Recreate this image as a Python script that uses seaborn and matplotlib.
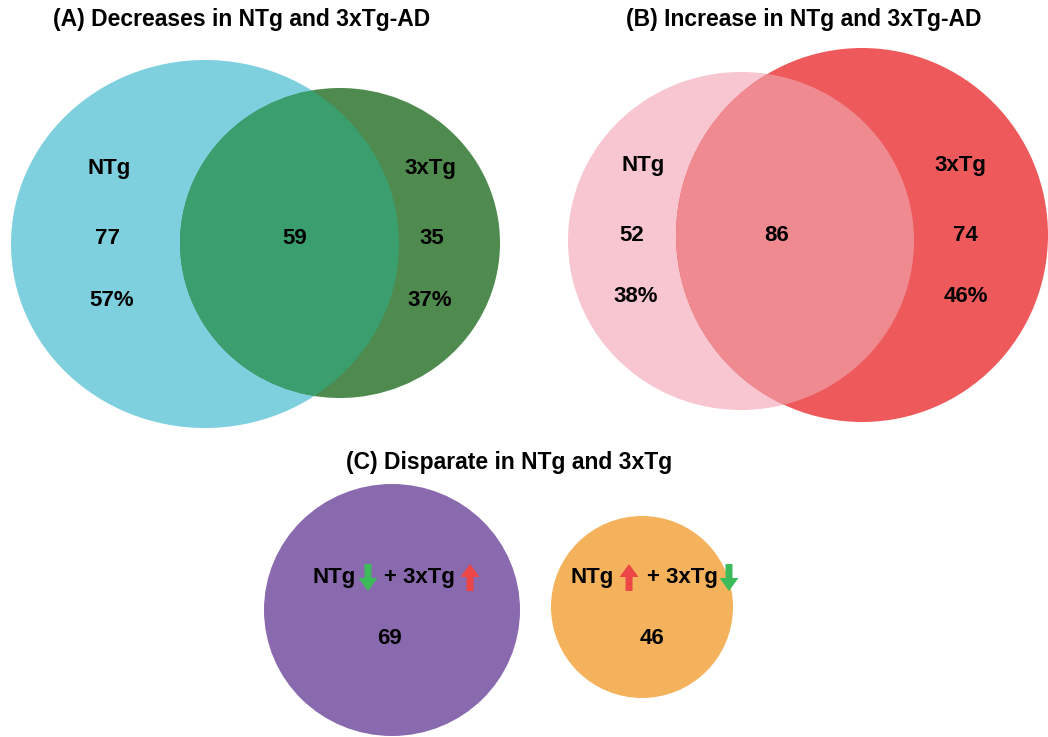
import numpy as np
import matplotlib.pyplot as plt
import seaborn as sns
from matplotlib.patches import Ellipse

# ---- data ----
titles = ["(A) Decreases in NTg and 3xTg-AD",
          "(B) Increase in NTg and 3xTg-AD",
          "(C) Disparate in NTg and 3xTg"]
set_names = ["NTg", "3xTg"]
decrease_counts = [77, 59, 35]      # NTg only, shared, 3xTg only
decrease_pct = ["57%", "37%"]
increase_counts = [52, 86, 74]
increase_pct = ["38%", "46%"]
disparate_counts = [69, 46]         # NTg down + 3xTg up, NTg up + 3xTg down

sns.set_theme(style="white")
plt.rcParams["font.family"] = ["Liberation Sans", "DejaVu Sans"]

fig = plt.figure(figsize=(10.48, 7.37), dpi=100)
ax = fig.add_axes([0, 0, 1, 1])
ax.set_xlim(0, 1048)
ax.set_ylim(737, 0)
ax.set_aspect("equal")
ax.axis("off")

FS = 16


def venn2(ax, c1, c2, colors):
    e1 = Ellipse(c1[:2], c1[2], c1[3], color=colors[0], lw=0)
    e2 = Ellipse(c2[:2], c2[2], c2[3], color=colors[1], lw=0)
    ax.add_patch(e1)
    ax.add_patch(e2)
    # overlap region: second ellipse clipped to the first
    ov = Ellipse(c2[:2], c2[2], c2[3], color=colors[2], lw=0)
    ax.add_patch(ov)
    ov.set_clip_path(e1)


def label(x, y, s, size=FS, ha="center"):
    ax.text(x, y, s, ha=ha, va="center", fontsize=size,
            fontweight="bold", color="black")


# (A)
venn2(ax, (205, 244, 388, 368), (340, 243, 320, 310),
      ["#7ed0de", "#4f8a4f", "#3a9e6e"])
label(242, 19, titles[0], 16.5)
label(109, 168, set_names[0])
label(430, 168, set_names[1])
for x, v in zip([107, 295, 432], decrease_counts):
    label(x, 238, str(v))
label(112, 300, decrease_pct[0])
label(430, 300, decrease_pct[1])

# (B)
venn2(ax, (741, 241, 346, 338), (862, 235, 372, 374),
      ["#f7c6d0", "#ee5a5b", "#ef8a91"])
label(804, 19, titles[1], 16.5)
label(643, 165, set_names[0])
label(960, 165, set_names[1])
for x, v in zip([632, 777, 965], increase_counts):
    label(x, 235, str(v))
label(636, 296, increase_pct[0])
label(966, 296, increase_pct[1])

# (C)
label(509, 462, titles[2], 16.5)
ax.add_patch(Ellipse((392, 610), 256, 252, color="#8a6aae", lw=0))
ax.add_patch(Ellipse((642, 607), 182, 182, color="#f5b25c", lw=0))

GREEN, RED = "#3dba5a", "#ec4646"


def arrow(x, up, color):
    y0, dy = (591, -27) if up else (564, 27)
    ax.arrow(x, y0, 0, dy, width=7, head_width=19, head_length=13,
             length_includes_head=True, color=color, lw=0)


label(356, 578, set_names[0], ha="right")
arrow(368, False, GREEN)
label(384, 578, "+ 3xTg", ha="left")
arrow(470, True, RED)
label(389, 638, str(disparate_counts[0]))

label(614, 578, set_names[0], ha="right")
arrow(629, True, RED)
label(647, 578, "+ 3xTg", ha="left")
arrow(729, False, GREEN)
label(652, 638, str(disparate_counts[1]))

fig.savefig("out.png", dpi=100)
